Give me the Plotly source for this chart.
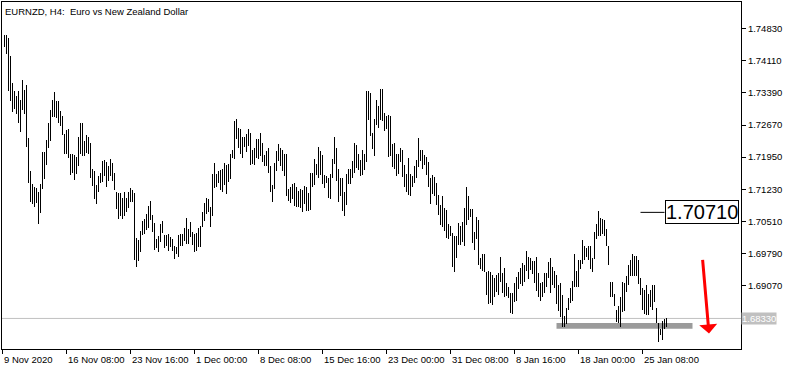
import plotly.graph_objects as go

# ---- data (EURNZD H4 bars) ----
highs = [
    1.7470, 1.7470, 1.7462, 1.7421, 1.7362, 1.7344, 1.7333, 1.7343, 1.7324, 1.7367,
    1.7345, 1.7356, 1.7237, 1.7163, 1.7134, 1.7128, 1.7125, 1.7117, 1.7134, 1.7207,
    1.7207, 1.7233, 1.7271, 1.7300, 1.7322, 1.7342, 1.7321, 1.7321, 1.7298, 1.7287,
    1.7246, 1.7255, 1.7257, 1.7201, 1.7201, 1.7199, 1.7195, 1.7239, 1.7272, 1.7272,
    1.7231, 1.7244, 1.7239, 1.7226, 1.7168, 1.7163, 1.7133, 1.7153, 1.7160, 1.7186,
    1.7188, 1.7183, 1.7174, 1.7190, 1.7181, 1.7159, 1.7116, 1.7114, 1.7114, 1.7104,
    1.7116, 1.7103, 1.7117, 1.7125, 1.7121, 1.7114, 1.7013, 1.7009, 1.7030, 1.7052,
    1.7056, 1.7067, 1.7086, 1.7097, 1.7066, 1.7047, 1.7011, 1.7019, 1.7045, 1.7051,
    1.7020, 1.7021, 1.7022, 1.7015, 1.7011, 1.6996, 1.6993, 1.7020, 1.7022, 1.7022,
    1.7035, 1.7058, 1.7034, 1.7049, 1.7028, 1.7022, 1.7024, 1.7037, 1.7041, 1.7072,
    1.7093, 1.7104, 1.7101, 1.7082, 1.7157, 1.7181, 1.7157, 1.7164, 1.7166, 1.7168,
    1.7181, 1.7177, 1.7179, 1.7201, 1.7212, 1.7276, 1.7280, 1.7261, 1.7257, 1.7241,
    1.7241, 1.7246, 1.7259, 1.7248, 1.7211, 1.7215, 1.7235, 1.7235, 1.7250, 1.7226,
    1.7199, 1.7208, 1.7216, 1.7175, 1.7132, 1.7181, 1.7208, 1.7224, 1.7216, 1.7210,
    1.7203, 1.7203, 1.7123, 1.7127, 1.7134, 1.7136, 1.7127, 1.7118, 1.7123, 1.7121,
    1.7131, 1.7127, 1.7114, 1.7159, 1.7160, 1.7190, 1.7180, 1.7218, 1.7208, 1.7199,
    1.7154, 1.7153, 1.7149, 1.7156, 1.7190, 1.7241, 1.7216, 1.7168, 1.7149, 1.7148,
    1.7117, 1.7156, 1.7168, 1.7168, 1.7186, 1.7226, 1.7223, 1.7201, 1.7189, 1.7212,
    1.7203, 1.7344, 1.7343, 1.7338, 1.7250, 1.7281, 1.7324, 1.7310, 1.7347, 1.7347,
    1.7293, 1.7287, 1.7290, 1.7288, 1.7224, 1.7226, 1.7203, 1.7203, 1.7215, 1.7210,
    1.7177, 1.7156, 1.7192, 1.7158, 1.7153, 1.7175, 1.7188, 1.7237, 1.7212, 1.7210,
    1.7199, 1.7196, 1.7183, 1.7149, 1.7154, 1.7151, 1.7136, 1.7110, 1.7088, 1.7107,
    1.7080, 1.7076, 1.7045, 1.7040, 1.7024, 1.7019, 1.7019, 1.7047, 1.7040, 1.7049,
    1.7080, 1.7129, 1.7108, 1.7078, 1.7078, 1.7028, 1.7060, 1.7054, 1.6969, 1.6978,
    1.6978, 1.6938, 1.6940, 1.6938, 1.6931, 1.6923, 1.6931, 1.6935, 1.6970, 1.6934,
    1.6946, 1.6913, 1.6903, 1.6891, 1.6890, 1.6913, 1.6927, 1.6938, 1.6946, 1.6957,
    1.6953, 1.6984, 1.6970, 1.6968, 1.6961, 1.6961, 1.6970, 1.6935, 1.6913, 1.6915,
    1.6935, 1.6935, 1.6959, 1.6969, 1.6948, 1.6940, 1.6931, 1.6908, 1.6913, 1.6885,
    1.6838, 1.6856, 1.6879, 1.6902, 1.6918, 1.6977, 1.6939, 1.6963, 1.6963, 1.7009,
    1.6996, 1.6990, 1.6995, 1.6995, 1.6968, 1.7026, 1.7045, 1.7075, 1.7058, 1.7056,
    1.7054, 1.7034, 1.6995, 1.6915, 1.6915, 1.6888, 1.6853, 1.6862, 1.6881, 1.6915,
    1.6913, 1.6929, 1.6952, 1.6965, 1.6978, 1.6974, 1.6973, 1.6963, 1.6923, 1.6901,
    1.6896, 1.6907, 1.6888, 1.6897, 1.6908, 1.6909, 1.6856, 1.6823, 1.6810, 1.6827,
    1.6831, 1.6834,
]
lows = [
    1.7442, 1.7426, 1.7343, 1.7321, 1.7296, 1.7303, 1.7292, 1.7272, 1.7251, 1.7300,
    1.7291, 1.7218, 1.7138, 1.7095, 1.7090, 1.7084, 1.7093, 1.7046, 1.7069, 1.7123,
    1.7145, 1.7177, 1.7216, 1.7231, 1.7285, 1.7285, 1.7282, 1.7272, 1.7265, 1.7244,
    1.7203, 1.7203, 1.7192, 1.7155, 1.7160, 1.7143, 1.7157, 1.7175, 1.7201, 1.7198,
    1.7198, 1.7205, 1.7201, 1.7149, 1.7130, 1.7101, 1.7089, 1.7116, 1.7138, 1.7140,
    1.7153, 1.7129, 1.7142, 1.7153, 1.7142, 1.7121, 1.7078, 1.7056, 1.7062, 1.7057,
    1.7063, 1.7071, 1.7081, 1.7095, 1.7095, 1.6963, 1.6948, 1.6961, 1.6981, 1.7020,
    1.7022, 1.7031, 1.7037, 1.7054, 1.7026, 1.6987, 1.6990, 1.6981, 1.7004, 1.7024,
    1.6990, 1.6996, 1.6985, 1.6993, 1.6984, 1.6967, 1.6978, 1.6970, 1.6996, 1.6996,
    1.7007, 1.7000, 1.7000, 1.7015, 1.6998, 1.6981, 1.6985, 1.6994, 1.6994, 1.7039,
    1.7052, 1.7067, 1.7072, 1.7039, 1.7063, 1.7125, 1.7127, 1.7136, 1.7121, 1.7117,
    1.7133, 1.7112, 1.7139, 1.7145, 1.7192, 1.7190, 1.7235, 1.7216, 1.7201, 1.7194,
    1.7218, 1.7207, 1.7221, 1.7177, 1.7179, 1.7177, 1.7192, 1.7190, 1.7198, 1.7183,
    1.7174, 1.7174, 1.7160, 1.7117, 1.7095, 1.7123, 1.7164, 1.7186, 1.7175, 1.7163,
    1.7153, 1.7107, 1.7097, 1.7093, 1.7101, 1.7086, 1.7084, 1.7082, 1.7081, 1.7071,
    1.7089, 1.7075, 1.7073, 1.7077, 1.7127, 1.7133, 1.7155, 1.7147, 1.7154, 1.7134,
    1.7125, 1.7136, 1.7103, 1.7102, 1.7148, 1.7180, 1.7142, 1.7095, 1.7107, 1.7075,
    1.7063, 1.7088, 1.7134, 1.7134, 1.7149, 1.7160, 1.7170, 1.7166, 1.7153, 1.7154,
    1.7166, 1.7184, 1.7278, 1.7242, 1.7214, 1.7198, 1.7268, 1.7261, 1.7278, 1.7276,
    1.7253, 1.7257, 1.7196, 1.7198, 1.7172, 1.7168, 1.7153, 1.7158, 1.7183, 1.7151,
    1.7129, 1.7117, 1.7110, 1.7108, 1.7128, 1.7136, 1.7147, 1.7173, 1.7186, 1.7169,
    1.7177, 1.7154, 1.7127, 1.7089, 1.7112, 1.7108, 1.7088, 1.7066, 1.7043, 1.7039,
    1.7030, 1.7014, 1.7011, 1.7019, 1.6949, 1.6938, 1.6969, 1.6998, 1.6998, 1.7004,
    1.6996, 1.7043, 1.7054, 1.7060, 1.7002, 1.6987, 1.7011, 1.6953, 1.6944, 1.6940,
    1.6937, 1.6885, 1.6866, 1.6868, 1.6864, 1.6881, 1.6892, 1.6885, 1.6915, 1.6891,
    1.6881, 1.6883, 1.6879, 1.6846, 1.6844, 1.6870, 1.6872, 1.6899, 1.6911, 1.6905,
    1.6915, 1.6940, 1.6922, 1.6942, 1.6933, 1.6912, 1.6894, 1.6881, 1.6873, 1.6881,
    1.6890, 1.6903, 1.6923, 1.6891, 1.6907, 1.6901, 1.6866, 1.6849, 1.6836, 1.6814,
    1.6814, 1.6821, 1.6851, 1.6868, 1.6873, 1.6903, 1.6903, 1.6903, 1.6944, 1.6955,
    1.6963, 1.6970, 1.6963, 1.6944, 1.6938, 1.6967, 1.7011, 1.7019, 1.7019, 1.7023,
    1.7017, 1.6996, 1.6954, 1.6881, 1.6880, 1.6862, 1.6824, 1.6823, 1.6814, 1.6847,
    1.6849, 1.6892, 1.6907, 1.6929, 1.6929, 1.6928, 1.6929, 1.6910, 1.6885, 1.6851,
    1.6842, 1.6840, 1.6840, 1.6858, 1.6851, 1.6870, 1.6823, 1.6780, 1.6795, 1.6785,
    1.6810, 1.6814,
]

date_labels = ["9 Nov 2020", "16 Nov 08:00", "23 Nov 16:00", "1 Dec 00:00",
               "8 Dec 08:00", "15 Dec 16:00", "23 Dec 00:00", "31 Dec 08:00",
               "8 Jan 16:00", "18 Jan 00:00", "25 Jan 08:00"]
date_bars = [-1, 31, 63, 95, 127, 159, 191, 223, 255, 287, 319]

price_ticks = [1.74830, 1.74110, 1.73390, 1.72670, 1.71950, 1.71230,
               1.70510, 1.69790, 1.69070]
current_price = 1.68330
marked_price = 1.70710
support_low, support_high = 1.6810, 1.6823

title_text = "EURNZD, H4:\u00a0 Euro vs New Zealand Dollar"

FONT = "Liberation Sans, Arial, sans-serif"

idx = list(range(len(highs)))
rng = [h - l for h, l in zip(highs, lows)]

fig = go.Figure()
fig.add_trace(go.Bar(
    x=idx, y=rng, base=lows, width=0.5,
    marker=dict(color="black", line=dict(width=0)),
    hoverinfo="skip", showlegend=False,
))

shapes = [
    # current price line
    dict(type="line", xref="paper", x0=0, x1=1, yref="y",
         y0=current_price, y1=current_price,
         line=dict(color="#c0c0c0", width=1), layer="below"),
    # support zone
    dict(type="rect", xref="x", x0=276, x1=344, yref="y",
         y0=support_low, y1=support_high,
         fillcolor="#9b9b9b", line=dict(width=0), layer="below"),
    # leader line to price label
    dict(type="line", xref="x", x0=318, x1=330, yref="y",
         y0=marked_price, y1=marked_price,
         line=dict(color="black", width=1)),
]

annotations = [
    dict(text=title_text, xref="paper", yref="paper", x=0, y=1,
         xanchor="left", yanchor="top", xshift=1, yshift=-2, showarrow=False,
         font=dict(family=FONT, size=9.5, color="black")),
    dict(text=f"{marked_price:.5f}", xref="paper", yref="y", x=1, y=marked_price,
         xanchor="right", yanchor="middle", xshift=-2, showarrow=False,
         bgcolor="white", bordercolor="black", borderwidth=1, borderpad=0,
         font=dict(family=FONT, size=20, color="black")),
    dict(text=f"{current_price:.5f}", xref="paper", yref="y", x=1, y=current_price,
         xanchor="left", yanchor="middle", xshift=0, showarrow=False,
         bgcolor="#c0c0c0", borderpad=0,
         font=dict(family=FONT, size=9.5, color="white")),
    # red arrow
    dict(text="", xref="x", yref="y", x=352.25, y=1.67992, ax=-6.5, ay=-75,
         showarrow=True, arrowhead=1, arrowsize=1, arrowwidth=3,
         arrowcolor="#ff0000", standoff=0),
]
for lab, b in zip(date_labels, date_bars):
    annotations.append(dict(
        text=lab, xref="x", yref="paper", x=b, y=0, xanchor="left",
        yanchor="top", xshift=-1, yshift=-3, showarrow=False,
        font=dict(family=FONT, size=9.5, color="black")))

fig.update_layout(
    width=793, height=370,
    margin=dict(l=2, r=52, t=2, b=21),
    paper_bgcolor="white", plot_bgcolor="white",
    shapes=shapes, annotations=annotations,
    bargap=0, showlegend=False,
    xaxis=dict(range=[-1.25, 368.25], showgrid=False, zeroline=False,
               showline=True, mirror=True, linecolor="black", linewidth=1,
               ticks="outside", ticklen=4, tickcolor="black",
               tickvals=date_bars, showticklabels=False, fixedrange=True),
    yaxis=dict(range=[1.67644, 1.75430], side="right", showgrid=False,
               zeroline=False, showline=True, mirror=True, linecolor="black",
               linewidth=1, ticks="outside", ticklen=4, tickcolor="black",
               tickvals=price_ticks, ticktext=[f"{p:.5f}" for p in price_ticks],
               tickfont=dict(family=FONT, size=9.5, color="black"),
               fixedrange=True),
)

fig.write_html("out.html")
